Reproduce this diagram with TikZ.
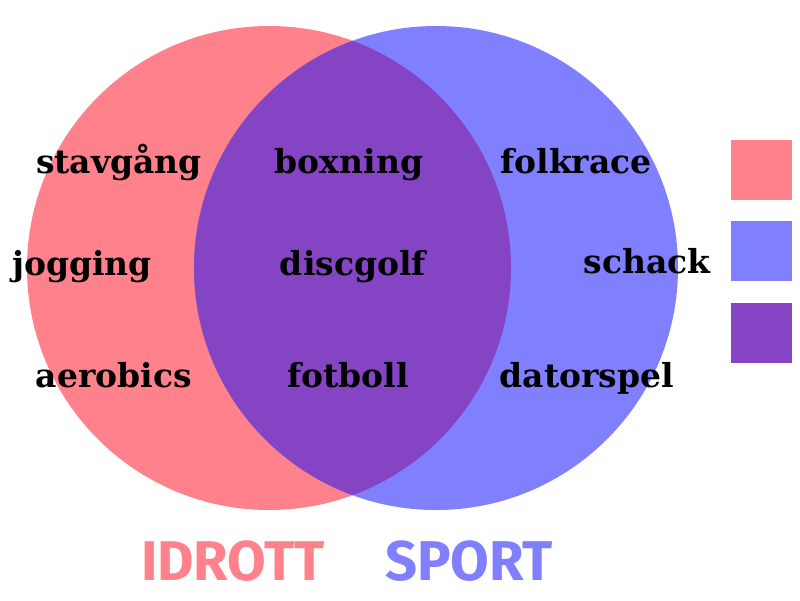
\documentclass[tikz,border=0pt]{standalone}
\usepackage{fontspec}
\setmainfont{DejaVu Serif}
\newfontfamily\titlefont{Fira Sans}
\usetikzlibrary{positioning}

\definecolor{idrottred}{HTML}{FF818B}
\definecolor{sportblue}{HTML}{8080FF}
\definecolor{bothpurple}{HTML}{8444C4}

\tikzset{
  word/.style={font=\bfseries\fontsize{33}{33}\selectfont, anchor=base, inner sep=0pt},
  title/.style={font=\titlefont\bfseries\fontsize{56}{56}\selectfont, anchor=base, inner sep=0pt},
  swatch/.style={minimum width=61pt, minimum height=60pt, inner sep=0pt, node distance=21pt},
}

\begin{document}
\begin{tikzpicture}[x=1pt,y=-1pt]
  \useasboundingbox (0,0) rectangle (800,600);

  % the two sets
  \fill[idrottred] (269,268) circle (242pt);
  \fill[sportblue] (436,268) circle (242pt);
  % overlap
  \begin{scope}
    \clip (269,268) circle (242pt);
    \fill[bothpurple] (436,268) circle (242pt);
  \end{scope}

  % idrott only
  \node[word] (stav)  at (119,173) {stavgång};
  \node[word] (jog)   at (82,275)  {jogging};
  \node[word] (aero)  at (114,387) {aerobics};
  % both
  \node[word] (box)   at (349,173) {boxning};
  \node[word] (disc)  at (353,275) {discgolf};
  \node[word] (fot)   at (348,387) {fotboll};
  % sport only
  \node[word] (folk)  at (576,173) {folkrace};
  \node[word] (schack) at (647,273) {schack};
  \node[word] (dator) at (587,387) {datorspel};

  % set names
  \node[title, text=idrottred] (idrott) at (233,580) {IDROTT};
  \node[title, text=sportblue] (sport)  at (469,580) {SPORT};

  % legend
  \node[swatch, fill=idrottred] (sw-idrott) at (761,170) {};
  \node[swatch, fill=sportblue, below=of sw-idrott] (sw-sport) {};
  \node[swatch, fill=bothpurple, below=of sw-sport] (sw-both) {};
\end{tikzpicture}
\end{document}
